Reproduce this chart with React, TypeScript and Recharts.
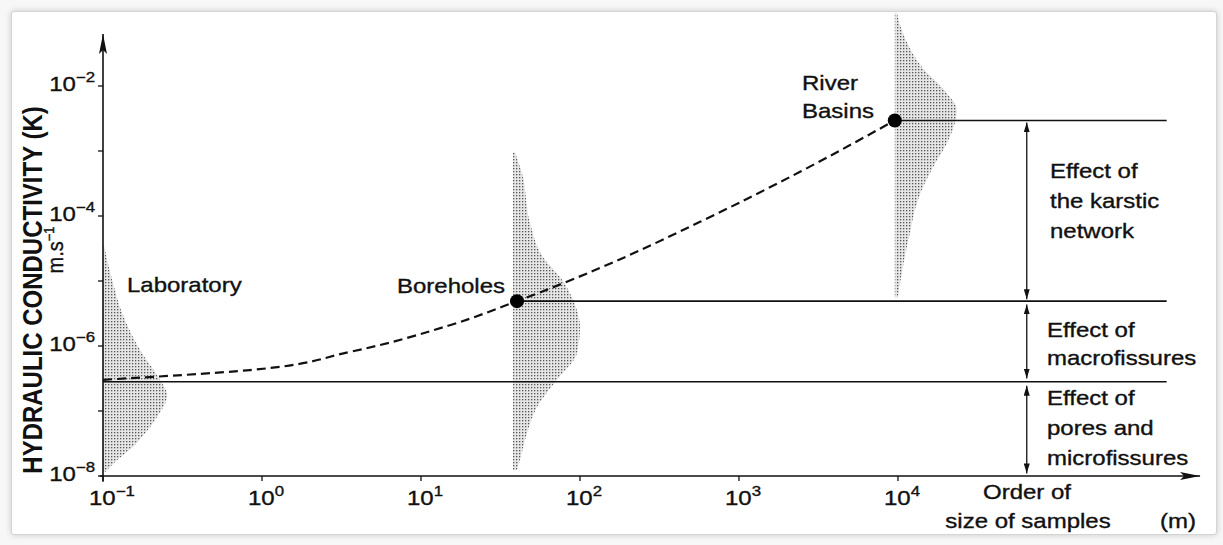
import React from "react";
import { Area, ComposedChart, Line, ReferenceLine, XAxis, YAxis } from "recharts";

// every reading below is a log10 value taken off the figure
// (K in m/s on the vertical axis, sample size in m on the horizontal one)

// stippled distributions: K level, right edge of the shape, left edge
const labK = [-4.45, -4.98, -5.6, -6.06, -6.52, -6.75, -7.14, -7.52, -7.83, -7.94];
const labEdge = [-0.994, -0.943, -0.862, -0.767, -0.642, -0.597, -0.673, -0.799, -0.943, -0.987];
const labBase = -1;

const boreK = [-3.02, -3.34, -4.11, -4.63, -4.98, -5.29, -5.71, -6.11, -6.52, -6.94, -7.34, -7.75, -7.91];
const boreEdge = [1.591, 1.635, 1.686, 1.767, 1.887, 1.956, 2.0, 1.981, 1.855, 1.73, 1.667, 1.623, 1.604];
const boreBase = 1.579;

const riverK = [-0.88, -1.185, -1.71, -2.11, -2.37, -2.57, -2.88, -3.25, -3.75, -4.26, -4.78, -5.25];
const riverEdge = [3.994, 4.031, 4.151, 4.308, 4.371, 4.358, 4.308, 4.22, 4.126, 4.075, 4.031, 4.0];
const riverBase = 3.98;

// dashed trend laboratory -> boreholes -> river basins
const trendSize = [-1, -0.075, 0.553, 1.182, 1.604, 2.126, 2.755, 3.384, 3.98];
const trendK = [-6.52, -6.37, -6.09, -5.68, -5.31, -4.8, -4.09, -3.32, -2.53];

// black dots (boreholes, river basins)
const siteSize = [1.604, 3.98];
const siteK = [-5.31, -2.53];

// horizontal levels running out to the right
const levelK = [-6.55, -5.31, -2.53];
const levelStart = [-1, 1.604, 3.98];
const levelEnd = 5.69;

// double arrows at the right
const arrowSize = 4.81;
const arrowSpans = [
  [-2.56, -5.28],
  [-5.36, -6.5],
  [-6.61, -7.96],
];

const xTicks = [-1, 0, 1, 2, 3, 4];
const yTicks = [-8, -7, -6, -5, -4, -3, -2];

const FONT = '"Liberation Sans", Arial, Helvetica, sans-serif';
const INK = "#111";
const p10 = (v: number) => Math.pow(10, v);

const shapeRows = (ks: number[], edges: number[], base: number) =>
  ks.map((k, i) => ({ k: p10(k), range: [p10(base), p10(edges[i])] }));

const labRows = shapeRows(labK, labEdge, labBase);
const boreRows = shapeRows(boreK, boreEdge, boreBase);
const riverRows = shapeRows(riverK, riverEdge, riverBase);
const trendRows = trendK.map((k, i) => ({ k: p10(k), x: p10(trendSize[i]) }));
const siteRows = siteK.map((k, i) => ({ k: p10(k), x: p10(siteSize[i]) }));
const levelRows = levelK.map((k, i) => [
  { k: p10(k), x: p10(levelStart[i]) },
  { k: p10(k), x: p10(levelEnd) },
]);

const sup = (e: number) => (e < 0 ? "\u2212" + -e : String(e));

const textStyle = { fontFamily: FONT, fill: INK, stroke: INK, strokeWidth: 0.35 };

const XTick = (props: any) => {
  const { x, y, payload } = props;
  const e = Math.round(Math.log10(payload.value));
  return (
    <g transform={`translate(${x - 14},${y + 22}) scale(1.2,1)`}>
      <text {...textStyle} fontSize={20}>
        10
        <tspan dy={-9} fontSize={14}>
          {sup(e)}
        </tspan>
      </text>
    </g>
  );
};

const YTick = (props: any) => {
  const { x, y, payload } = props;
  const e = Math.round(Math.log10(payload.value));
  if (e % 2 !== 0) return <g />;
  return (
    <g transform={`translate(${x - 1},${y + 5}) scale(1.2,1)`}>
      <text {...textStyle} fontSize={20} textAnchor="end">
        10
        <tspan dy={-9} fontSize={14}>
          {sup(e)}
        </tspan>
      </text>
    </g>
  );
};

const arrowLine = (marker: string, w: number, both: boolean) => (p: any) =>
  (
    <line
      x1={p.x1}
      y1={p.y1}
      x2={p.x2}
      y2={p.y2}
      stroke={INK}
      strokeWidth={w}
      markerEnd={`url(#${marker})`}
      markerStart={both ? `url(#${marker})` : undefined}
    />
  );

const Txt = ({ x, y, children, anchor = "start" }: any) => (
  <g transform={`translate(${x},${y}) scale(1.2,1)`}>
    <text {...textStyle} fontSize={20} textAnchor={anchor}>
      {children}
    </text>
  </g>
);

export default function App() {
  return (
    <div style={{ position: "absolute", left: 0, top: 0, width: 1223, height: 545, background: "#f7f7f7" }}>
      <div
        style={{
          position: "absolute",
          left: 11,
          top: 11,
          width: 1204,
          height: 522,
          background: "#fff",
          border: "1px solid #d4d4d4",
          borderRadius: 3,
          boxShadow: "0 0 6px rgba(0,0,0,0.18)",
        }}
      />
      <div style={{ position: "absolute", left: 0, top: 0 }}>
        <ComposedChart
          width={1223}
          height={545}
          layout="vertical"
          margin={{ top: 8, right: 15, bottom: 68, left: 102 }}
        >
          <defs>
            <pattern id="stipple" width="3" height="3" patternUnits="userSpaceOnUse">
              <rect width="3" height="3" fill="#e6e6e6" />
              <rect x="0" y="0" width="1.3" height="1.3" fill="#555" />
            </pattern>
            <marker
              id="axisArrow"
              viewBox="0 0 20 8"
              refX="20"
              refY="4"
              markerWidth="20"
              markerHeight="8"
              markerUnits="userSpaceOnUse"
              orient="auto-start-reverse"
            >
              <path d="M0,0 L20,4 L0,8 L4,4 z" fill={INK} />
            </marker>
            <marker
              id="dimArrow"
              viewBox="0 0 10 6"
              refX="10"
              refY="3"
              markerWidth="10"
              markerHeight="6"
              markerUnits="userSpaceOnUse"
              orient="auto-start-reverse"
            >
              <path d="M0,0 L10,3 L0,6 z" fill={INK} />
            </marker>
          </defs>
          <XAxis
            type="number"
            scale="log"
            domain={[0.1, p10(5.95)]}
            allowDataOverflow
            ticks={xTicks.map(p10)}
            height={1}
            axisLine={false}
            tickLine={{ stroke: INK, strokeWidth: 1.3 }}
            tickSize={5}
            tick={(p: any) => <XTick {...p} />}
          />
          <YAxis
            type="number"
            scale="log"
            dataKey="k"
            reversed
            domain={[1e-8, p10(-0.8)]}
            allowDataOverflow
            ticks={yTicks.map(p10)}
            width={1}
            axisLine={false}
            tickLine={{ stroke: INK, strokeWidth: 1.3 }}
            tickSize={5}
            tick={(p: any) => <YTick {...p} />}
          />
          <Area data={labRows} dataKey="range" type="monotone" stroke="none" fill="url(#stipple)" fillOpacity={1} isAnimationActive={false} />
          <Area data={boreRows} dataKey="range" type="monotone" stroke="none" fill="url(#stipple)" fillOpacity={1} isAnimationActive={false} />
          <Area data={riverRows} dataKey="range" type="monotone" stroke="none" fill="url(#stipple)" fillOpacity={1} isAnimationActive={false} />
          {levelRows.map((rows, i) => (
            <Line
              key={i}
              data={rows}
              dataKey="x"
              type="linear"
              stroke={INK}
              strokeWidth={1.6}
              dot={false}
              isAnimationActive={false}
            />
          ))}
          <Line
            data={trendRows}
            dataKey="x"
            type="monotone"
            stroke={INK}
            strokeWidth={2.2}
            strokeDasharray="9 5"
            dot={false}
            isAnimationActive={false}
          />
          <Line
            data={siteRows}
            dataKey="x"
            stroke="none"
            dot={{ r: 7, fill: "#000", stroke: "#000", strokeWidth: 0 }}
            isAnimationActive={false}
          />
          <ReferenceLine
            segment={[
              { x: p10(-1.02), y: 1e-8 },
              { x: p10(5.9), y: 1e-8 },
            ]}
            ifOverflow="visible"
            shape={arrowLine("axisArrow", 1.6, false)}
          />
          <ReferenceLine
            segment={[
              { x: 0.1, y: p10(-8.09) },
              { x: 0.1, y: p10(-1.2) },
            ]}
            ifOverflow="visible"
            shape={arrowLine("axisArrow", 1.6, false)}
          />
          {arrowSpans.map(([a, b], i) => (
            <ReferenceLine
              key={"arr" + i}
              segment={[
                { x: p10(arrowSize), y: p10(a) },
                { x: p10(arrowSize), y: p10(b) },
              ]}
              ifOverflow="visible"
              shape={arrowLine("dimArrow", 1.3, true)}
            />
          ))}
        </ComposedChart>
      </div>
      <svg
        width={1223}
        height={545}
        style={{ position: "absolute", left: 0, top: 0, pointerEvents: "none" }}
      >
        <text
          transform="translate(42,290) rotate(-90) scale(1,1.12)"
          fontFamily={FONT}
          fontSize={24}
          fontWeight="bold"
          fill={INK}
          textAnchor="middle"
        >
          HYDRAULIC CONDUCTIVITY (K)
        </text>
        <text
          transform="translate(63,250) rotate(-90) scale(1,1.12)"
          {...textStyle}
          fontSize={20}
          textAnchor="middle"
        >
          m.s
          <tspan dy={-8} fontSize={13}>
            {"\u22121"}
          </tspan>
        </text>
        <Txt x={127} y={292}>Laboratory</Txt>
        <Txt x={397} y={293}>Boreholes</Txt>
        <Txt x={802} y={90}>River</Txt>
        <Txt x={802} y={118}>Basins</Txt>
        <Txt x={1050} y={178}>Effect of</Txt>
        <Txt x={1050} y={208}>the karstic</Txt>
        <Txt x={1050} y={238}>network</Txt>
        <Txt x={1047} y={337}>Effect of</Txt>
        <Txt x={1047} y={365}>macrofissures</Txt>
        <Txt x={1047} y={405}>Effect of</Txt>
        <Txt x={1047} y={435}>pores and</Txt>
        <Txt x={1047} y={465}>microfissures</Txt>
        <Txt x={1027} y={499} anchor="middle">Order of</Txt>
        <Txt x={1028} y={528} anchor="middle">size of samples</Txt>
        <Txt x={1160} y={528}>(m)</Txt>
      </svg>
    </div>
  );
}
